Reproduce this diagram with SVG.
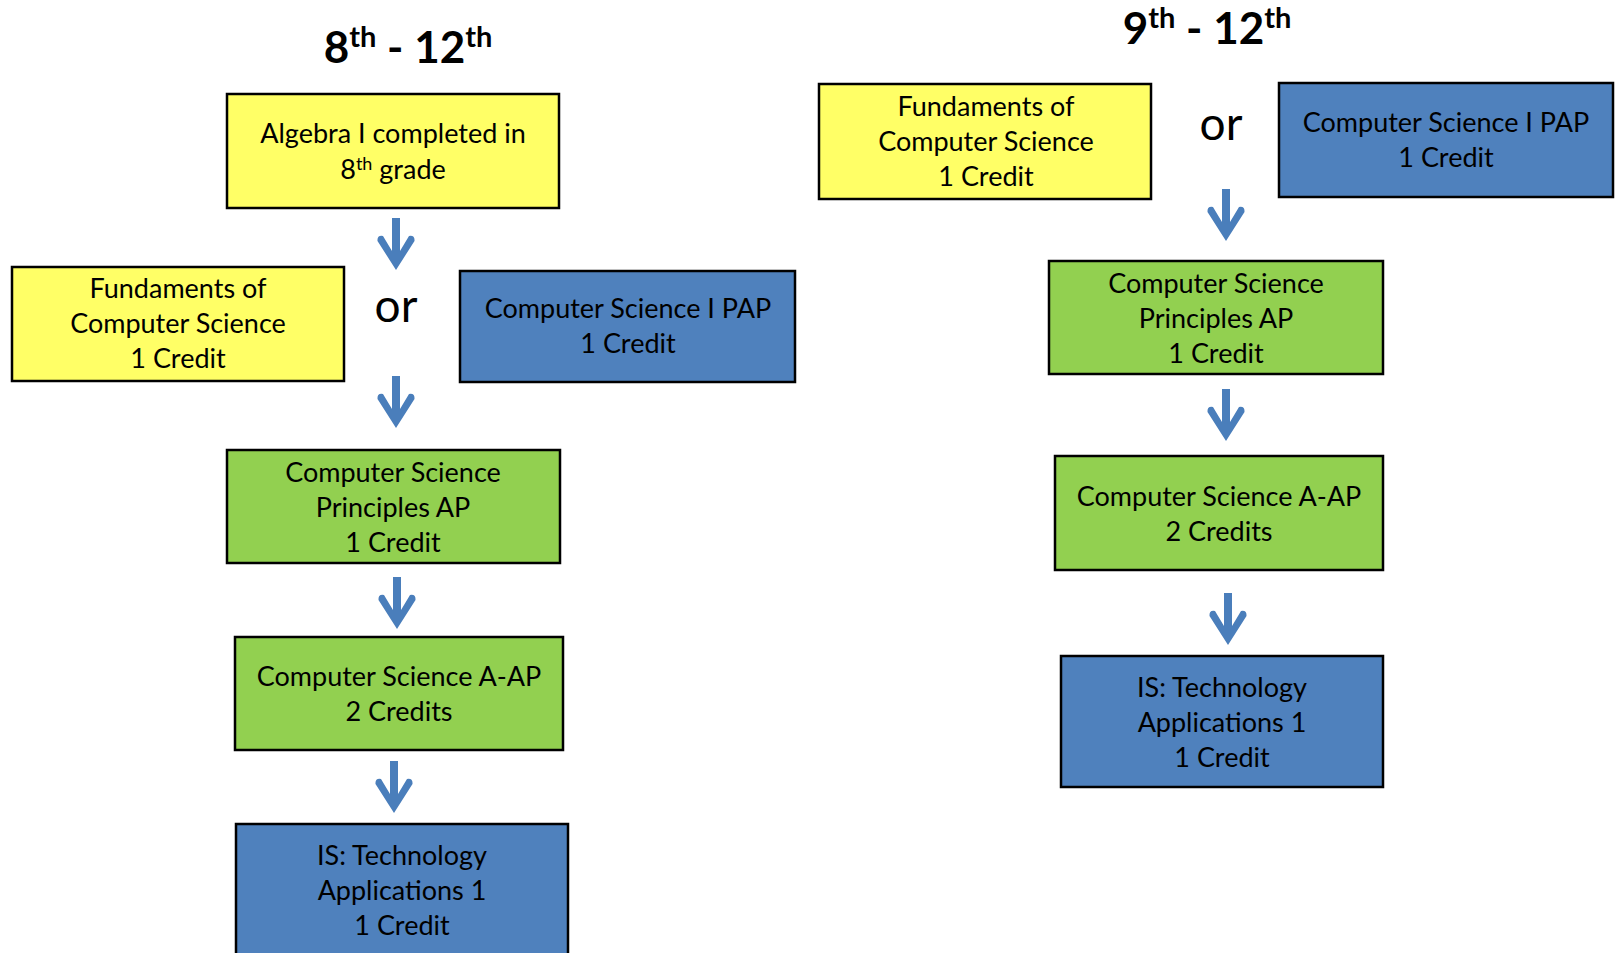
<svg xmlns="http://www.w3.org/2000/svg" width="1615" height="953" viewBox="0 0 1615 953">
<style>
.box{stroke:#000;stroke-width:2.5}
.y{fill:#FFFF66}
.g{fill:#92D050}
.b{fill:#4F81BD}
.t{font-family:Lato,"Liberation Sans",sans-serif;font-size:27px;fill:#000;text-anchor:middle}
.h{font-family:Lato,"Liberation Sans",sans-serif;font-size:44px;font-weight:bold;fill:#000;text-anchor:middle}
.or{font-family:Lato,"Liberation Sans",sans-serif;font-size:46px;fill:#000;text-anchor:middle}
.arr{fill:#4A7EBB}
</style>
<defs>
<path id="arrow" d="M0,0 L-18.5,-29 Q-19,-35 -13,-34 L-4,-19 L-4,-52 L4,-52 L4,-19 L13,-34 Q19,-35 18.5,-29 Z"/>
</defs>
<rect width="1615" height="953" fill="#fff"/>
<g id="title-left"><text class="h" x="408" y="63">8<tspan dy="-16" font-size="29">th</tspan><tspan dy="16"> - 12</tspan><tspan dy="-16" font-size="29">th</tspan></text></g>
<g id="title-right"><text class="h" x="1207" y="44">9<tspan dy="-16" font-size="29">th</tspan><tspan dy="16"> - 12</tspan><tspan dy="-16" font-size="29">th</tspan></text></g>

<g id="algebra"><rect class="box y" x="227" y="94" width="332" height="114"/>
<text class="t" x="393" y="143">Algebra I completed in</text>
<text class="t" x="393" y="179">8<tspan dy="-9" font-size="18">th</tspan><tspan dy="9"> grade</tspan></text></g>

<g id="fund-left"><rect class="box y" x="12" y="267" width="332" height="114"/>
<text class="t" x="178" y="298">Fundaments of</text>
<text class="t" x="178" y="333">Computer Science</text>
<text class="t" x="178" y="368">1 Credit</text></g>

<g id="or-left"><text class="or" x="396" y="322">or</text></g>

<g id="cs1pap-left"><rect class="box b" x="460" y="271" width="335" height="111"/>
<text class="t" x="628" y="318">Computer Science I PAP</text>
<text class="t" x="628" y="353">1 Credit</text></g>

<g id="csp-left"><rect class="box g" x="227" y="450" width="333" height="113"/>
<text class="t" x="393" y="482">Computer Science</text>
<text class="t" x="393" y="517">Principles AP</text>
<text class="t" x="393" y="552">1 Credit</text></g>

<g id="csa-left"><rect class="box g" x="235" y="637" width="328" height="113"/>
<text class="t" x="399" y="686">Computer Science A-AP</text>
<text class="t" x="399" y="721">2 Credits</text></g>

<g id="is-left"><rect class="box b" x="236" y="824" width="332" height="150"/>
<text class="t" x="402" y="865">IS: Technology</text>
<text class="t" x="402" y="900">Applications 1</text>
<text class="t" x="402" y="935">1 Credit</text></g>

<g id="fund-right"><rect class="box y" x="819" y="84" width="332" height="115"/>
<text class="t" x="986" y="116">Fundaments of</text>
<text class="t" x="986" y="151">Computer Science</text>
<text class="t" x="986" y="186">1 Credit</text></g>

<g id="or-right"><text class="or" x="1221" y="140">or</text></g>

<g id="cs1pap-right"><rect class="box b" x="1279" y="83" width="334" height="114"/>
<text class="t" x="1446" y="132">Computer Science I PAP</text>
<text class="t" x="1446" y="167">1 Credit</text></g>

<g id="csp-right"><rect class="box g" x="1049" y="261" width="334" height="113"/>
<text class="t" x="1216" y="293">Computer Science</text>
<text class="t" x="1216" y="328">Principles AP</text>
<text class="t" x="1216" y="363">1 Credit</text></g>

<g id="csa-right"><rect class="box g" x="1055" y="456" width="328" height="114"/>
<text class="t" x="1219" y="506">Computer Science A-AP</text>
<text class="t" x="1219" y="541">2 Credits</text></g>

<g id="is-right"><rect class="box b" x="1061" y="656" width="322" height="131"/>
<text class="t" x="1222" y="697">IS: Technology</text>
<text class="t" x="1222" y="732">Applications 1</text>
<text class="t" x="1222" y="767">1 Credit</text></g>

<g id="connectors" class="arr">
<use href="#arrow" x="396" y="270"/>
<use href="#arrow" x="396" y="428"/>
<use href="#arrow" x="397" y="629"/>
<use href="#arrow" x="394" y="813"/>
<use href="#arrow" x="1226" y="241"/>
<use href="#arrow" x="1226" y="441"/>
<use href="#arrow" x="1228" y="645"/>
</g>
</svg>
